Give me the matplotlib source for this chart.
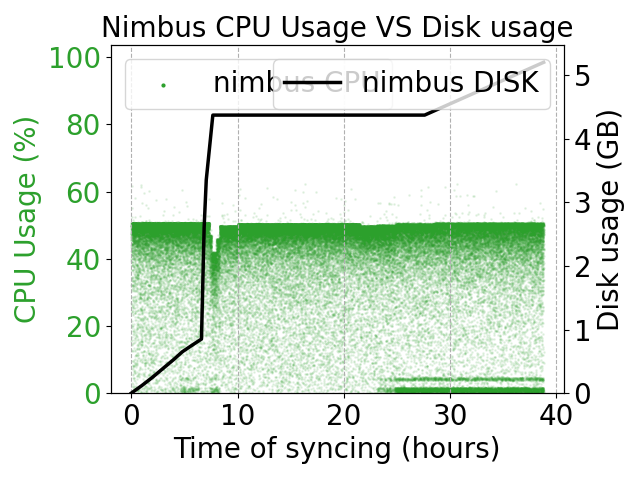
import numpy as np
import matplotlib
matplotlib.use("Agg")
import matplotlib.pyplot as plt

# ---- Disk usage (GB) vs time (hours) ----
disk_hours = [0.0, 1.0, 2.0, 3.0, 4.0, 4.8, 5.6, 6.6, 6.85, 7.05, 7.67, 27.6, 38.8]
disk_gb    = [0.0, 0.12, 0.25, 0.39, 0.53, 0.65, 0.74, 0.85, 2.6, 3.35, 4.37, 4.37, 5.2]

# ---- CPU usage cloud, summarised per time segment ----
seg_start  = [0.0, 4.6, 6.0, 7.35, 7.55, 8.0, 8.3, 10.0, 21.5, 23.1, 24.8, 28.5]
seg_end    = [4.6, 6.0, 7.35, 7.55, 8.0, 8.3, 10.0, 21.5, 23.1, 24.8, 28.5, 38.8]
band_top   = [50.8, 50.8, 50.8, 47.0, 42.0, 46.0, 49.8, 50.5, 49.8, 50.0, 50.4, 50.6]  # upper edge (%)
band_depth = [2.6, 2.6, 2.6, 7.0, 7.0, 6.0, 2.6, 2.6, 3.0, 3.2, 4.0, 4.5]              # mean drop in band (%)
band_share = [0.48, 0.48, 0.48, 0.55, 0.55, 0.55, 0.5, 0.5, 0.55, 0.52, 0.42, 0.44]
line_share = [0.0, 0.0, 0.0, 0.0, 0.0, 0.0, 0.0, 0.0, 0.0, 0.0, 0.06, 0.07]            # thin line at top
idle_share = [0.004, 0.04, 0.01, 0.04, 0.05, 0.04, 0.0, 0.0, 0.0, 0.04, 0.17, 0.17]   # near 0 %
shoulder_depth = [9.0, 9.0, 9.0, 9.0, 9.0, 9.0, 9.0, 9.0, 10.0, 10.0, 12.0, 13.0]     # mean drop below band (%)
shoulder_share = 0.55
fuzz_share = 0.006
samples_per_hour = 2000

title = "Nimbus CPU Usage VS Disk usage"
xlabel = "Time of syncing (hours)"
ylabel_cpu = "CPU Usage (%)"
ylabel_disk = "Disk usage (GB)"

green = "#2ca02c"


def unit_hash(k, salt):
    """Deterministic integer hash of the sample index mapped to [0, 1)."""
    with np.errstate(over='ignore'):
        x = k.astype(np.uint64) * np.uint64(0x9E3779B97F4A7C15) + np.uint64(salt)
        x ^= x >> np.uint64(30)
        x *= np.uint64(0xBF58476D1CE4E5B9)
        x ^= x >> np.uint64(27)
        x *= np.uint64(0x94D049BB133111EB)
        x ^= x >> np.uint64(31)
    return (x >> np.uint64(11)).astype(np.float64) / float(2 ** 53)


cpu_t, cpu_v = [], []
start = 0
for s0, s1, top, bd, bs, ls, idle, sd in zip(seg_start, seg_end, band_top, band_depth,
                                              band_share, line_share, idle_share, shoulder_depth):
    n = int((s1 - s0) * samples_per_hour)
    k = np.arange(start, start + n)
    start += n
    t = s0 + (s1 - s0) * (np.arange(n) + 0.5) / n
    c = unit_hash(k, 11)
    v = unit_hash(k, 977)
    d = unit_hash(k, 31337)
    y = np.empty(n)
    m_line = c < ls
    m_band = (c >= ls) & (c < ls + bs)
    m_idle = (c >= ls + bs) & (c < ls + bs + idle)
    m_fuzz = c >= 1 - fuzz_share
    m_tail = ~(m_line | m_band | m_idle | m_fuzz)
    y[m_line] = top - 1.0 + 1.2 * v[m_line]
    y[m_band] = top - np.minimum(bd * -np.log(1 - 0.999 * v[m_band]), top)
    vi = v[m_idle]
    y[m_idle] = np.where(vi < 0.8, 0.2 + 1.5 * vi / 0.8, 3.8 + 0.9 * (vi - 0.8) / 0.2)
    y[m_fuzz] = top - 0.3 + 12.0 * v[m_fuzz] ** 5
    vt = v[m_tail]
    shoulder = d[m_tail] < shoulder_share
    drop_sh = np.minimum(sd * -np.log(1 - 0.995 * vt), top)
    drop_br = top * vt ** 1.3
    y[m_tail] = top - np.where(shoulder, drop_sh, drop_br)
    cpu_t.append(t)
    cpu_v.append(y)
cpu_t = np.concatenate(cpu_t)
cpu_v = np.concatenate(cpu_v)

plt.rcParams['font.size'] = 20
fig, ax = plt.subplots(figsize=(6.4, 4.8), dpi=100)
fig.subplots_adjust(left=0.173, right=0.881, top=0.906, bottom=0.181)

ax.scatter(cpu_t, cpu_v, s=1, color=green, alpha=0.09, label="nimbus CPU")
ax.set_ylim(0, 103.6)
ax.set_xlim(-1.94, 40.7)
ax.set_xlabel(xlabel)
ax.set_ylabel(ylabel_cpu, color=green)
ax.tick_params(axis='y', labelcolor=green)
ax.grid(axis='x', linestyle='--')
leg1 = ax.legend(loc='upper left')
for h in leg1.legend_handles:
    h.set_alpha(1)
    h.set_sizes([4])

ax2 = ax.twinx()
ax2.plot(disk_hours, disk_gb, color='black', linewidth=2.5, label="nimbus DISK")
ax2.set_ylim(0, 5.47)
ax2.set_ylabel(ylabel_disk)
ax2.legend(loc='upper right')

ax.set_title(title, fontsize=20)
fig.savefig("out.png", dpi=100)
